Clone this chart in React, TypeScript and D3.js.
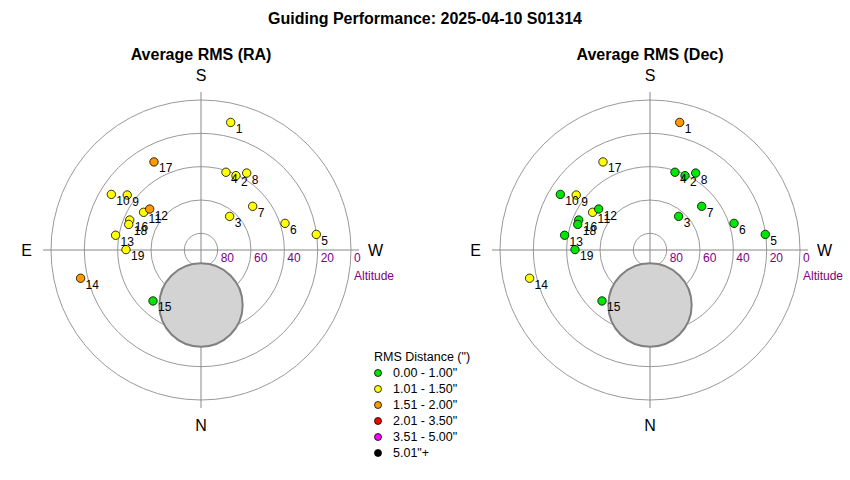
import * as d3 from "d3";

// frame numbers plotted on both charts
const frames = [1, 2, 3, 4, 5, 6, 7, 8, 9, 10, 11, 12, 13, 14, 15, 16, 17, 18, 19];
// azimuth (deg, N=0, E=90) and altitude (deg) of each frame
const azimuth = [193.1, 205.2, 220.4, 197.8, 262.3, 252.4, 229.8, 210.7, 126.7, 121.8, 123.3, 128.6, 99.8, 76.8, 43.3, 112.8, 151.9, 109.5, 90.3];
const altitude = [11.4, 40.7, 63.5, 41.0, 20.2, 37.1, 49.4, 36.3, 34.8, 26.7, 48.8, 50.6, 38.0, 15.8, 48.0, 43.6, 30.1, 44.0, 45.0];
// average RMS per frame (arcsec)
const raRms = [1.32, 1.28, 1.15, 1.22, 1.41, 1.36, 1.19, 1.25, 1.30, 1.44, 1.12, 1.63, 1.27, 1.72, 0.94, 1.18, 1.58, 1.21, 1.33];
const decRms = [1.56, 0.82, 0.71, 0.77, 0.88, 0.91, 0.69, 0.85, 1.08, 0.93, 1.12, 0.86, 0.79, 1.21, 0.74, 0.81, 1.17, 0.76, 0.90];

// legend bins
const binLabels = ['0.00 - 1.00"', '1.01 - 1.50"', '1.51 - 2.00"', '2.01 - 3.50"', '3.51 - 5.00"', '5.01"+'];
const binLimits = [1.0, 1.5, 2.0, 3.5, 5.0];
const binColors = ["#00e600", "#ffff00", "#ff9900", "#ff0000", "#ff00ff", "#000000"];

// altitude rings and their labels
const ringAltitudes = [80, 60, 40, 20, 0];

// shaded region (az, alt, angular radius)
const shadeAz = 0;
const shadeAlt = 57;
const shadeRadius = 25;

const FONT = "'Liberation Sans', Arial, sans-serif";
const R = 150;

const colorFor = d3.scaleThreshold<number, string>().domain(binLimits).range(binColors);
const rScale = d3.scaleLinear().domain([90, 0]).range([0, R]);

const toXY = (az: number, alt: number) => {
  const r = rScale(alt);
  const a = (az * Math.PI) / 180;
  return [-r * Math.sin(a), r * Math.cos(a)];
};

const Polar: React.FC<{ cx: number; cy: number; title: string; rms: number[] }> = ({ cx, cy, title, rms }) => {
  const [sx, sy] = toXY(shadeAz, shadeAlt);
  const shadeR = rScale(90 - shadeRadius);
  const L = 158;
  return (
    <g transform={`translate(${cx},${cy})`}>
      <text x={0} y={-190} textAnchor="middle" fontSize={16} fontWeight="bold">
        {title}
      </text>
      {ringAltitudes.map((alt) => (
        <circle key={alt} r={rScale(alt)} fill="none" stroke="#999" strokeWidth={1} />
      ))}
      <line x1={-L} x2={L} y1={0} y2={0} stroke="#888" strokeWidth={1} />
      <line x1={0} x2={0} y1={-L} y2={L} stroke="#888" strokeWidth={1} />
      <circle cx={sx} cy={sy} r={shadeR} fill="#d3d3d3" stroke="#808080" strokeWidth={2} />
      {ringAltitudes.map((alt) => (
        <text key={alt} x={rScale(alt) + 3} y={12} fontSize={12} fill="#800080">
          {alt}
        </text>
      ))}
      <text x={153} y={30} fontSize={12} fill="#800080">
        Altitude
      </text>
      <text x={0} y={-169} textAnchor="middle" fontSize={16}>S</text>
      <text x={0} y={181} textAnchor="middle" fontSize={16}>N</text>
      <text x={-169} y={6} textAnchor="end" fontSize={16}>E</text>
      <text x={167} y={6} fontSize={16}>W</text>
      {frames.map((f, i) => {
        const [x, y] = toXY(azimuth[i], altitude[i]);
        return <circle key={f} cx={x} cy={y} r={4.2} fill={colorFor(rms[i])} stroke="#000" strokeWidth={0.8} />;
      })}
      {frames.map((f, i) => {
        const [x, y] = toXY(azimuth[i], altitude[i]);
        return (
          <text key={f} x={x + 5} y={y + 10.5} fontSize={12}>
            {f}
          </text>
        );
      })}
    </g>
  );
};

export default function App() {
  return (
    <svg width={850} height={480} style={{ position: "absolute", left: 0, top: 0, background: "#fff" }} fontFamily={FONT}>
      <text x={425} y={24} textAnchor="middle" fontSize={16} fontWeight="bold">
        Guiding Performance: 2025-04-10 S01314
      </text>
      <Polar cx={201} cy={250} title="Average RMS (RA)" rms={raRms} />
      <Polar cx={650} cy={250} title="Average RMS (Dec)" rms={decRms} />
      <g transform="translate(378,361)">
        <text x={-4} y={0} fontSize={12.5}>
          RMS Distance (")
        </text>
        {binLabels.map((lbl, i) => (
          <g key={lbl} transform={`translate(0,${12 + i * 16})`}>
            <circle cx={0} cy={0} r={3.5} fill={binColors[i]} stroke="#000" strokeWidth={0.8} />
            <text x={15} y={4} fontSize={12.5}>
              {lbl}
            </text>
          </g>
        ))}
      </g>
    </svg>
  );
}
